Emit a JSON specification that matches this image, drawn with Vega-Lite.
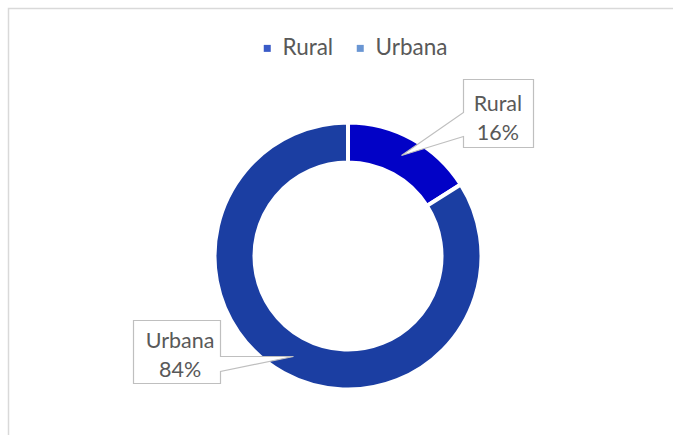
{
  "$schema": "https://vega.github.io/schema/vega-lite/v6.json",
  "width": 680,
  "height": 496,
  "autosize": {"type": "none"},
  "padding": {"left": 8, "top": 8, "right": 0, "bottom": 0},
  "background": "white",
  "config": {
    "view": {"stroke": null},
    "font": "Lato"
  },
  "data": {
    "values": [
      {"cat": "Rural", "value": 16},
      {"cat": "Urbana", "value": 84}
    ]
  },
  "transform": [
    {"calculate": "datum.cat + '\\n' + datum.value + '%'", "as": "label"}
  ],
  "layer": [
    {
      "data": {"values": [{"frame": "chart"}]},
      "mark": {"type": "point", "filled": false, "fill": null, "stroke": "#d9d9d9", "strokeWidth": 1.5, "size": 4, "opacity": 1,
        "shape": "M-339.5,400 L-339.5,-247.5 L400,-247.5"}
    },
    {
      "mark": {"type": "arc", "radius": 133.5, "radius2": 93.5},
      "encoding": {
        "theta": {"field": "value", "type": "quantitative", "stack": true},
        "order": {"field": "cat"},
        "fill": {
          "field": "cat", "type": "nominal",
          "scale": {"domain": ["Rural", "Urbana"], "range": ["#3a5bc7", "#6a96d3"]},
          "legend": {
            "orient": "none", "legendX": 248, "legendY": 29, "direction": "horizontal",
            "title": null, "symbolType": "square", "symbolSize": 49,
            "labelFontSize": 22.5, "labelColor": "#595959", "labelFont": "Lato",
            "labelOffset": 4, "columnPadding": 15
          }
        }
      }
    },
    {
      "mark": {"type": "arc", "radius": 133.5, "radius2": 93.5, "stroke": "white", "strokeWidth": 4},
      "encoding": {
        "theta": {"field": "value", "type": "quantitative", "stack": true},
        "order": {"field": "cat"},
        "color": {
          "field": "cat", "type": "nominal",
          "scale": {"domain": ["Rural", "Urbana"], "range": ["#0202c6", "#1b3ea2"]},
          "legend": null
        }
      }
    },
    {
      "transform": [{"calculate": "datum.cat + ' box'", "as": "callout"}],
      "mark": {"type": "point", "filled": true, "fill": "white", "stroke": "#bfbfbf", "strokeWidth": 1.2, "size": 4, "opacity": 1},
      "encoding": {
        "shape": {
          "field": "callout", "type": "nominal",
          "scale": {"domain": ["Rural box", "Urbana box"], "range": [
            "M115.5,-176.5 L185.5,-176.5 L185.5,-108.5 L115.5,-108.5 L115.5,-119.5 L53.5,-100.5 L115.5,-143.5 Z",
            "M-214.5,64.5 L-127.5,64.5 L-127.5,100.5 L-54.5,100.5 L-127.5,115.5 L-127.5,127.5 L-214.5,127.5 Z"
          ]},
          "legend": null
        }
      }
    },
    {
      "transform": [{"filter": "datum.cat == 'Rural'"}],
      "mark": {"type": "text", "radius": 170, "dx": 68, "dy": -2, "fontSize": 21.5, "lineHeight": 29, "lineBreak": "\n", "color": "#595959", "align": "center", "baseline": "middle", "font": "Lato"},
      "encoding": {
        "theta": {"datum": 28.8, "type": "quantitative", "scale": {"domain": [0, 360], "range": [0, 6.2832]}},
        "text": {"field": "label"}
      }
    },
    {
      "transform": [{"filter": "datum.cat == 'Urbana'"}],
      "mark": {"type": "text", "radius": 170, "dx": -86, "dy": -63, "fontSize": 21.5, "lineHeight": 29, "lineBreak": "\n", "color": "#595959", "align": "center", "baseline": "middle", "font": "Lato"},
      "encoding": {
        "theta": {"datum": 208.8, "type": "quantitative", "scale": {"domain": [0, 360], "range": [0, 6.2832]}},
        "text": {"field": "label"}
      }
    }
  ],
  "resolve": {"scale": {"theta": "independent"}}
}
